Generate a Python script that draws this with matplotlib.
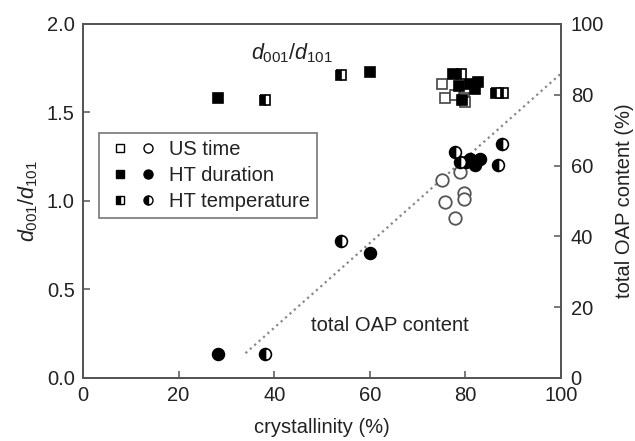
import numpy as np
import matplotlib
matplotlib.use('Agg')
from matplotlib import pyplot as plt
from matplotlib.lines import Line2D
from matplotlib.legend_handler import HandlerTuple

plt.rcParams['font.family'] = ['Liberation Sans', 'DejaVu Sans']
plt.rcParams['mathtext.fontset'] = 'custom'
plt.rcParams['mathtext.rm'] = 'Liberation Sans'
plt.rcParams['mathtext.it'] = 'Liberation Sans:italic'
fs = 14.5

# d001/d101 ratio (left axis), squares
us_sq_x = [75.0, 75.7, 77.8, 79.6, 80.0]
us_sq_y = [1.66, 1.58, 1.60, 1.58, 1.56]
dur_sq_x = [28.2, 60.0, 77.5, 78.7, 79.2, 81.0, 82.0, 82.7]
dur_sq_y = [1.58, 1.73, 1.72, 1.65, 1.57, 1.66, 1.63, 1.67]
temp_sq_x = [38.1, 54.0, 79.0, 86.5, 87.9]
temp_sq_y = [1.57, 1.71, 1.72, 1.61, 1.61]

# total OAP content (right axis), circles
us_ci_x = [75.0, 78.9, 79.6, 79.6, 75.7, 77.8]
us_ci_y = [55.9, 58.3, 52.2, 50.7, 49.8, 45.1]
dur_ci_x = [28.2, 60.0, 81.0, 83.1, 82.0, 80.2]
dur_ci_y = [6.8, 35.2, 62.0, 62.0, 60.2, 61.1]
temp_ci_x = [38.1, 54.0, 77.8, 78.9, 86.9, 87.6]
temp_ci_y = [6.8, 38.7, 63.9, 61.1, 60.2, 66.1]

trend_x = [34, 100]
trend_y = [7, 86]

fig = plt.figure(figsize=(6.35, 4.41), dpi=100)
ax = fig.add_axes([0.1307, 0.1429, 0.7528, 0.8027])
ax2 = ax.twinx()

sq = dict(marker='s', ms=7.5, ls='none', mec='black', mew=1.2)
ci = dict(marker='o', ms=8.5, ls='none', mec='black', mew=1.2)
ci_open = dict(marker='o', ms=9, ls='none', mec='#555555', mew=1.3, mfc='white')
sq_open = dict(marker='s', ms=7.5, ls='none', mec='#444444', mew=1.2, mfc='white')

ax2.plot(trend_x, trend_y, ls=':', color='#888888', lw=1.6)

ax.plot(us_sq_x, us_sq_y, **sq_open)
ax.plot(dur_sq_x, dur_sq_y, mfc='black', **sq)
ax.plot(temp_sq_x, temp_sq_y, fillstyle='left', mfc='black', mfcalt='white', **sq)

ax2.plot(us_ci_x, us_ci_y, **ci_open)
ax2.plot(dur_ci_x, dur_ci_y, mfc='black', **ci)
ax2.plot(temp_ci_x, temp_ci_y, fillstyle='left', mfc='black', mfcalt='white', **ci)

ax.set_xlim(0, 100)
ax.set_ylim(0, 2.0)
ax2.set_ylim(0, 100)
ax.set_xticks([0, 20, 40, 60, 80, 100])
ax.set_yticks([0.0, 0.5, 1.0, 1.5, 2.0])
ax.set_yticklabels(['0.0', '0.5', '1.0', '1.5', '2.0'])
ax2.set_yticks([0, 20, 40, 60, 80, 100])

for a in (ax, ax2):
    for s in a.spines.values():
        s.set_color('#555555')
        s.set_linewidth(1.3)
    a.tick_params(direction='in', length=5, width=1.1, color='#555555',
                  labelsize=fs, labelcolor='#222222')
ax.tick_params(axis='x', pad=6)
ax.tick_params(axis='y', pad=6)
ax2.tick_params(axis='y', pad=7)

ax.set_xlabel('crystallinity (%)', fontsize=fs, color='#222222', labelpad=9)
ax.set_ylabel(r'$d_{\mathrm{001}}/d_{\mathrm{101}}$', fontsize=fs + 1, color='#222222', labelpad=5)
ax2.set_ylabel('total OAP content (%)', fontsize=fs, color='#222222', labelpad=8)

ax.text(43.7, 1.835, r'$d_{\mathrm{001}}/d_{\mathrm{101}}$', fontsize=fs + 1,
        ha='center', va='center', color='#222222')
ax2.text(64.2, 14.7, 'total OAP content', fontsize=fs, ha='center', va='center',
         color='#222222')

lsq = dict(marker='s', ms=5.5, ls='none', mec='black', mew=1.0)
lci = dict(marker='o', ms=6.5, ls='none', mec='black', mew=1.0)
h1 = (Line2D([], [], mfc='white', **lsq), Line2D([], [], mfc='white', **lci))
h2 = (Line2D([], [], mfc='black', **lsq), Line2D([], [], mfc='black', **lci))
h3 = (Line2D([], [], fillstyle='left', mfc='black', mfcalt='white', **lsq),
      Line2D([], [], fillstyle='left', mfc='black', mfcalt='white', **lci))
leg = ax.legend([h1, h2, h3], ['US time', 'HT duration', 'HT temperature'],
                handler_map={tuple: HandlerTuple(ndivide=2, pad=0)},
                loc='upper left', bbox_to_anchor=(0.034, 0.693), fontsize=fs,
                frameon=True, fancybox=False, edgecolor='#555555',
                handlelength=2.78, handletextpad=0.35, labelspacing=0.35,
                borderpad=0.35, borderaxespad=0)
leg.get_frame().set_linewidth(1.2)
for t in leg.get_texts():
    t.set_color('#222222')

fig.savefig('out.png', dpi=100)
